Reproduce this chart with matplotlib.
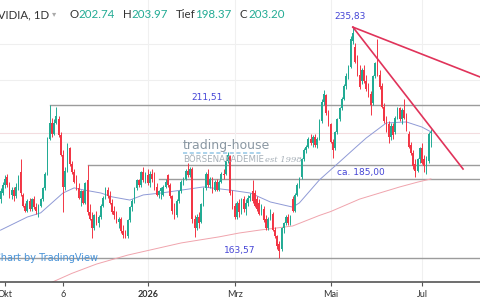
import numpy as np
import matplotlib
matplotlib.use("Agg")
import matplotlib.pyplot as plt
from matplotlib.lines import Line2D

# candle index 0 = 1 Okt 2025 (trading days)
idx = np.arange(-2, 192)

opens = [182.0, 184.0, 186.5, 189.0, 186.5, 183.5, 185.0, 183.0, 186.0, 190.5,
         183.5, 180.0, 178.5, 181.5, 179.0, 182.0, 179.5, 178.5, 180.0, 182.0,
         185.5, 190.0, 201.0, 206.0, 202.5, 206.0, 207.0, 202.0, 196.0, 186.0,
         191.0, 198.0, 193.0, 190.5, 187.5, 185.5, 182.5, 184.5, 181.0, 188.0,
         178.0, 176.0, 173.0, 177.0, 174.5, 176.5, 180.0, 182.5, 185.0, 183.0,
         181.0, 178.5, 177.0, 175.0, 176.0, 172.0, 171.5, 170.5, 175.5, 179.5,
         181.5, 185.5, 188.0, 186.5, 190.5, 188.0, 189.5, 187.0, 190.0, 188.5,
         186.0, 183.5, 184.5, 183.5, 186.0, 189.5, 186.5, 183.0, 179.0, 177.0,
         181.5, 184.5, 187.5, 188.5, 191.0, 189.5, 191.5, 176.0, 173.0, 176.5,
         175.0, 180.5, 185.5, 190.0, 186.5, 188.5, 185.0, 187.5, 185.0, 187.5,
         190.0, 190.0, 194.0, 195.5, 184.0, 180.0, 176.5, 181.0, 178.0, 182.0,
         179.0, 181.0, 182.5, 184.5, 184.0, 182.0, 181.0, 178.0, 179.0, 176.0,
         173.0, 176.0, 177.5, 172.5, 170.5, 168.0, 166.5, 173.0, 174.5, 176.5,
         174.5, 182.0, 178.5, 183.5, 186.5, 189.0, 194.5, 197.5, 198.5, 201.0,
         199.5, 201.5, 199.0, 201.0, 206.5, 212.5, 214.5, 209.0, 205.5, 200.0,
         198.0, 203.0, 207.0, 210.5, 213.5, 217.5, 220.5, 223.5, 231.5, 229.5,
         225.5, 221.0, 219.0, 222.5, 219.0, 216.5, 215.0, 212.0, 220.5, 224.5,
         221.0, 217.5, 211.0, 207.0, 205.5, 201.5, 205.0, 203.0, 207.5, 210.5,
         207.0, 210.0, 208.0, 202.5, 199.0, 196.5, 193.0, 191.0, 194.5, 198.0,
         194.5, 192.5, 194.0, 202.74]
highs = [185.5, 187.5, 189.5, 190.0, 187.5, 186.0, 186.0, 187.0, 189.5, 194.5,
         184.0, 181.0, 182.0, 182.5, 182.5, 183.0, 181.0, 180.5, 182.5, 186.0,
         190.5, 201.5, 211.51, 207.5, 207.0, 211.0, 208.0, 203.0, 197.5, 192.0,
         199.5, 198.5, 194.0, 191.5, 189.5, 187.0, 185.0, 185.0, 187.5, 192.8,
         180.5, 178.0, 177.5, 178.5, 177.0, 180.5, 183.0, 186.0, 186.0, 184.5,
         182.0, 180.0, 178.5, 176.5, 176.5, 174.0, 172.5, 176.0, 180.0, 182.0,
         186.0, 188.5, 188.5, 191.0, 192.1, 190.5, 191.5, 191.0, 191.5, 190.5,
         187.0, 185.0, 186.0, 186.5, 188.5, 190.0, 187.0, 183.5, 181.0, 182.0,
         185.0, 188.0, 189.0, 191.5, 193.5, 192.0, 192.0, 177.0, 177.5, 178.0,
         181.0, 186.0, 190.5, 191.5, 189.0, 189.0, 188.0, 188.5, 188.0, 190.5,
         191.5, 194.5, 196.8, 196.0, 185.0, 181.0, 181.5, 182.0, 182.5, 183.0,
         182.0, 183.5, 184.0, 188.0, 185.0, 183.0, 182.0, 180.5, 180.0, 177.0,
         176.5, 179.0, 178.0, 173.5, 171.0, 169.0, 173.5, 175.0, 177.0, 177.5,
         177.0, 183.0, 184.0, 187.0, 189.0, 195.0, 198.0, 199.0, 201.5, 202.5,
         202.0, 202.5, 201.5, 207.0, 213.5, 216.2, 215.0, 210.0, 206.0, 201.0,
         203.5, 207.5, 211.0, 214.0, 218.0, 221.5, 224.0, 233.0, 235.83, 231.0,
         227.0, 224.0, 223.0, 224.0, 221.0, 218.5, 216.0, 221.0, 225.0, 232.0,
         222.5, 218.5, 212.0, 208.0, 206.5, 206.0, 206.0, 208.0, 211.0, 211.0,
         210.5, 213.5, 209.0, 203.5, 200.0, 197.5, 194.5, 195.0, 198.5, 199.5,
         196.0, 195.5, 203.0, 203.97]
lows = [181.0, 183.5, 185.5, 186.0, 182.5, 182.0, 181.5, 182.5, 185.0, 183.0,
        179.5, 178.0, 178.0, 178.5, 178.5, 179.0, 177.5, 176.5, 179.5, 181.5,
        185.0, 189.5, 200.5, 201.5, 202.0, 205.5, 201.5, 195.5, 178.0, 185.0,
        190.5, 192.5, 190.0, 187.0, 185.0, 182.0, 180.0, 180.5, 180.5, 177.0,
        175.5, 169.8, 172.5, 174.0, 173.5, 176.0, 179.5, 182.0, 182.5, 180.5,
        177.5, 176.0, 174.5, 173.0, 171.5, 170.0, 169.8, 170.0, 175.0, 178.5,
        181.0, 185.0, 186.0, 186.0, 187.5, 187.0, 186.5, 186.0, 187.5, 185.0,
        183.0, 182.5, 182.0, 183.0, 185.5, 186.0, 182.5, 177.5, 176.0, 176.5,
        181.0, 184.0, 186.5, 188.0, 189.0, 189.0, 174.5, 170.3, 172.5, 173.0,
        174.5, 180.0, 185.0, 186.0, 185.5, 184.0, 184.5, 184.5, 184.5, 187.0,
        188.5, 189.5, 193.5, 183.5, 179.0, 176.0, 176.0, 176.5, 177.5, 178.0,
        177.0, 180.0, 181.5, 181.0, 179.5, 178.5, 177.0, 177.0, 175.0, 172.5,
        172.5, 175.5, 172.0, 170.0, 166.5, 163.57, 166.0, 171.5, 174.0, 174.0,
        174.0, 178.0, 178.0, 183.0, 185.5, 188.5, 194.0, 196.5, 198.0, 199.0,
        198.5, 198.5, 198.0, 200.5, 206.0, 211.5, 208.5, 205.0, 199.5, 195.0,
        197.5, 202.5, 206.5, 210.0, 213.0, 216.5, 219.5, 223.0, 230.5, 224.5,
        220.5, 216.5, 218.0, 218.5, 216.0, 214.0, 208.4, 211.5, 220.0, 220.5,
        216.5, 210.5, 206.0, 203.0, 199.5, 200.5, 201.0, 202.5, 207.0, 206.5,
        205.5, 207.0, 203.5, 198.0, 196.0, 191.5, 189.0, 190.5, 193.5, 193.0,
        190.5, 190.0, 193.5, 198.37]
closes = [184.5, 186.5, 188.5, 186.5, 183.5, 185.0, 183.0, 186.0, 189.0, 184.0,
          180.0, 178.5, 181.5, 179.0, 182.0, 179.5, 178.5, 180.0, 182.0, 185.5,
          190.0, 200.5, 206.0, 202.5, 206.0, 208.0, 202.0, 196.0, 186.0, 191.0,
          198.5, 193.0, 190.5, 187.5, 185.5, 182.5, 184.5, 181.0, 187.0, 178.0,
          176.0, 173.0, 177.0, 174.5, 176.5, 180.0, 182.5, 185.0, 183.0, 181.0,
          178.0, 177.0, 175.0, 176.0, 172.0, 171.0, 170.5, 175.5, 179.5, 181.5,
          185.5, 188.0, 186.5, 190.5, 188.0, 189.5, 187.0, 190.0, 188.5, 186.0,
          183.5, 184.5, 185.5, 186.0, 187.5, 186.5, 183.0, 178.5, 177.0, 181.5,
          184.5, 187.5, 188.5, 191.0, 189.5, 191.5, 176.0, 173.0, 176.5, 174.5,
          180.5, 185.5, 190.0, 186.5, 188.5, 185.0, 187.5, 185.0, 187.5, 190.0,
          189.5, 194.0, 196.0, 184.0, 180.0, 176.5, 181.0, 178.0, 182.0, 179.0,
          181.0, 182.5, 183.0, 181.5, 180.0, 179.0, 177.5, 180.0, 175.5, 173.0,
          176.0, 178.0, 172.5, 170.5, 167.5, 166.0, 173.0, 174.5, 176.5, 174.5,
          176.5, 178.5, 183.5, 186.5, 188.5, 194.5, 197.5, 198.5, 201.0, 199.5,
          201.5, 199.0, 201.0, 206.5, 212.5, 215.0, 209.0, 205.5, 200.0, 197.5,
          203.0, 207.0, 210.5, 213.5, 217.5, 220.5, 223.5, 232.0, 234.0, 225.0,
          221.0, 217.0, 222.5, 219.0, 216.5, 215.0, 211.5, 220.5, 224.5, 221.0,
          217.0, 211.0, 206.5, 203.5, 201.5, 205.0, 202.0, 207.5, 210.5, 207.0,
          210.0, 207.5, 204.0, 198.5, 196.5, 192.5, 191.0, 194.5, 198.0, 193.5,
          192.5, 194.5, 202.5, 203.20]

# moving averages (index, price)
ma50_idx = [-2, 10, 16, 26, 31, 35, 43, 48, 56, 62, 70, 79, 89, 101, 110, 119,
            129, 132, 141, 150, 157, 162, 171, 180, 187, 191]
ma50_val = [172.4, 176.5, 177.8, 184.0, 185.6, 185.0, 184.0, 182.8, 181.8, 183.4,
            184.0, 184.9, 185.9, 184.9, 184.0, 181.2, 179.6, 180.9, 188.1, 193.7,
            198.1, 201.2, 205.9, 206.2, 204.6, 203.1]
ma200_idx = [20, 30, 41, 55, 79, 87, 96, 105, 114, 129, 141, 146, 159, 177, 185, 191]
ma200_val = [155.8, 158.9, 161.8, 164.6, 168.4, 169.3, 170.3, 171.5, 172.4, 173.7,
             177.0, 178.2, 182.1, 185.9, 187.4, 188.4]

# drawn horizontal levels: price, start index
levels = [211.51, 192.8, 188.4, 163.57]
level_start = [20, 37, 69, -3]
grid_prices = [230.6, 219.3, 199.9]

# trend lines from the top
peak = (156, 235.83)
trend_ends = [(213, 220.26), (205.4, 191.5)]

tick_pos = [0, 26, 64, 103, 146, 187]
tick_lab = ["Okt", "6", "2026", "Mrz", "Mai", "Jul"]

green = "#22ab94"
red = "#f23645"
lab_col = "#4545d6"

fig = plt.figure(figsize=(4.8, 3.0), dpi=100)
ax = fig.add_axes([0, 0.06, 1, 0.94])
xmin, xmax = -2.24, 213.0
ax.set_xlim(xmin, xmax)
ax.set_ylim(156.2, 244.3)

for p in grid_prices:
    ax.axhline(p, color="#efefef", lw=0.8, zorder=0)
ax.axhline(202.8, color="#f3dde0", lw=0.8, zorder=0)
for t in tick_pos[2:]:
    ax.axvline(t, color="#f0f0f0", lw=0.8, zorder=0)

for p, s in zip(levels, level_start):
    ax.plot([s, xmax + 5], [p, p], color="#9c9c9c", lw=1.0, zorder=1)

# candles
o = np.array(opens); h = np.array(highs); l = np.array(lows); c = np.array(closes)
cols = np.where(c >= o, green, red)
ax.vlines(idx, l, h, colors=cols, lw=0.7, zorder=3)
body = np.maximum(np.abs(c - o), 0.25)
ax.bar(idx, body, bottom=np.minimum(o, c), width=0.75, color=cols, lw=0, zorder=3)

ax.plot(ma50_idx, ma50_val, color="#8f9ad6", lw=0.7, zorder=2)
ax.plot(ma200_idx, ma200_val, color="#f0a4ad", lw=0.7, zorder=2)

for e in trend_ends:
    ax.plot([peak[0], e[0]], [peak[1], e[1]], color="#e0335a", lw=1.2, zorder=4)

ax.text(90.6, 213.7, "211,51", color=lab_col, fontsize=6.5, ha="center", va="center")
ax.text(154.7, 239.0, "235,83", color=lab_col, fontsize=6.5, ha="center", va="center")
ax.text(159.6, 190.3, "ca. 185,00", color=lab_col, fontsize=6.5, ha="center", va="center")
ax.text(105.4, 165.9, "163,57", color=lab_col, fontsize=6.5, ha="center", va="center")

for s in ["top", "left", "right"]:
    ax.spines[s].set_visible(False)
ax.spines["bottom"].set_color("#555555")
ax.spines["bottom"].set_linewidth(1.2)
ax.set_yticks([])
ax.set_xticks(tick_pos)
ax.set_xticklabels(tick_lab, fontsize=6.5, color="#333333", family="Lato")
ax.get_xticklabels()[2].set_fontweight("bold")
ax.tick_params(axis="x", length=3, color="#555555", pad=2.5)

# header
def px(x, y):
    return x / 480, 1 - y / 300

hdr = [(-11, "NVIDIA, 1D", "#333333"), (70, "O", "#333333"), (78, "202.74", green),
       (123, "H", "#333333"), (131, "203.97", green), (176, "Tief", "#333333"),
       (195, "198.37", green), (240, "C", "#333333"), (248, "203.20", green)]
for x, s, col in hdr:
    fig.text(*px(x, 15), s, color=col, fontsize=8.3, family="Lato", va="center", ha="left")
fig.text(*px(52, 14), "\u25be", color="#aaaaaa", fontsize=6, va="center")

# watermark
fig.text(*px(183, 145), "trading-house", color="#8b98a3", fontsize=9,
         family="Liberation Sans Narrow", va="center", ha="left")
fig.add_artist(Line2D([183 / 480, 262 / 480], [1 - 153 / 300] * 2, color="#9ccbe8",
                      lw=1.2, dashes=(2.5, 1.5)))
fig.text(*px(183, 160), "B\u00d6RSENAKADEMIE", color="#a7b0b8", fontsize=6.2,
         family="Liberation Sans Narrow", va="center", ha="left")
fig.text(*px(265, 160), "est 1998", color="#a7b0b8", fontsize=6, style="italic",
         family="DejaVu Serif", va="center", ha="left")

fig.text(*px(-6, 258), "Chart by TradingView", color="#4a94d8", fontsize=7,
         va="center", ha="left")

fig.savefig("out.png", dpi=100)
